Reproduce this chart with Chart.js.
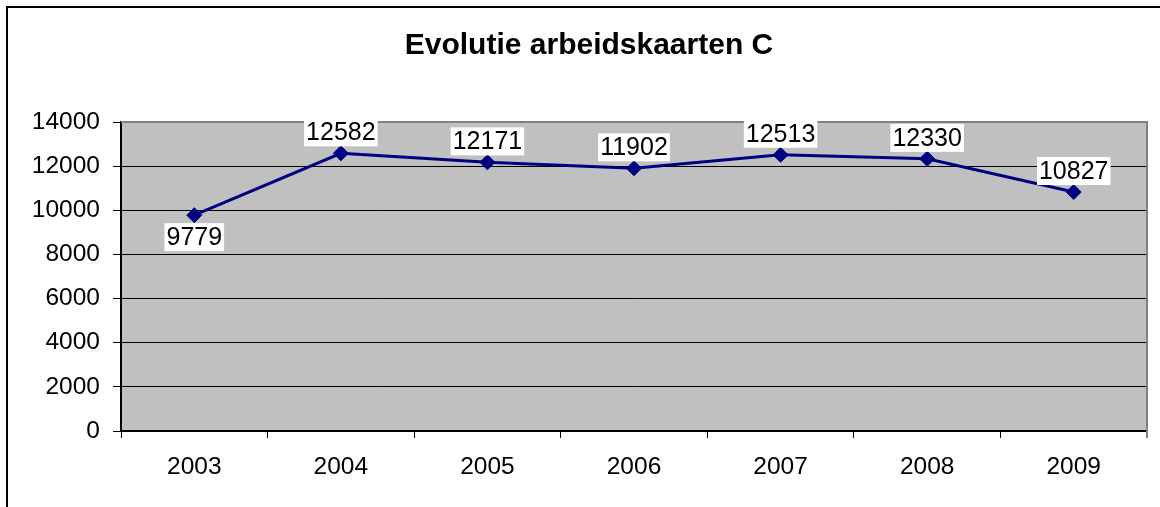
<!DOCTYPE html>
<html>
<head>
<meta charset="utf-8">
<script src="https://cdn.jsdelivr.net/npm/chart.js@4"></script>
<style>
  html, body { margin: 0; padding: 0; background: #fff; }
  #wrap { width: 1160px; height: 507px; position: relative; }
</style>
</head>
<body>
<div id="wrap"><canvas id="chart"></canvas></div>
<script>
var years = ['2003', '2004', '2005', '2006', '2007', '2008', '2009'];
var kaarten = [9779, 12582, 12171, 11902, 12513, 12330, 10827];
var labelBelow = [true, false, false, false, false, false, false];
var chartTitle = 'Evolutie arbeidskaarten C';

var font = 'Arial, "Liberation Sans", sans-serif';

// gray plot area + frame, outer chart border, title, data labels
var frame = {
    id: 'frame',
    beforeDraw: function(chart) {
        var c = chart.ctx, a = chart.chartArea;
        c.save();
        c.fillStyle = '#fff';
        c.fillRect(0, 0, chart.width, chart.height);
        c.strokeStyle = '#000';
        c.lineWidth = 2;
        c.strokeRect(7, 7, 2000, 2000);
        c.fillStyle = '#c0c0c0';
        c.fillRect(a.left, a.top, a.right - a.left, a.bottom - a.top);
        c.fillStyle = '#000';
        c.font = 'bold 30px ' + font;
        c.textAlign = 'center';
        c.textBaseline = 'middle';
        c.fillText(chartTitle, 589, 46);
        c.restore();
    },
    beforeDatasetsDraw: function(chart) {
        var c = chart.ctx, a = chart.chartArea;
        c.save();
        c.strokeStyle = '#808080';
        c.lineWidth = 2;
        c.beginPath();
        c.moveTo(a.left, a.top);
        c.lineTo(a.right, a.top);
        c.lineTo(a.right, a.bottom + 7);
        c.stroke();
        c.restore();
    },
    afterDatasetsDraw: function(chart) {
        var c = chart.ctx;
        var meta = chart.getDatasetMeta(0);
        c.save();
        c.font = '25px ' + font;
        c.textAlign = 'center';
        c.textBaseline = 'middle';
        meta.data.forEach(function(pt, i) {
            var txt = String(kaarten[i]);
            var w = c.measureText(txt).width + 4;
            var y = labelBelow[i] ? pt.y + 22 : pt.y - 21;
            c.fillStyle = '#fff';
            c.fillRect(pt.x - w / 2, y - 14, w, 28);
            c.fillStyle = '#000';
            c.fillText(txt, pt.x, y + 1);
        });
        c.restore();
    }
};

new Chart(document.getElementById('chart').getContext('2d'), {
    type: 'line',
    data: {
        labels: years,
        datasets: [{
            label: 'Arbeidskaarten C',
            data: kaarten,
            borderColor: '#000080',
            backgroundColor: '#000080',
            borderWidth: 3,
            pointStyle: 'rectRot',
            pointRadius: 7.5,
            pointBorderWidth: 1,
            tension: 0
        }]
    },
    options: {
        responsive: true,
        maintainAspectRatio: false,
        animation: false,
        layout: { padding: { left: 0, right: 13, top: 122, bottom: 0 } },
        plugins: {
            legend: { display: false },
            tooltip: { enabled: false },
            title: { display: false }
        },
        scales: {
            x: {
                offset: true,
                grid: {
                    offset: true,
                    drawOnChartArea: false,
                    drawTicks: true,
                    tickLength: 7,
                    tickColor: '#000'
                },
                border: { color: '#000', width: 2 },
                ticks: { color: '#000', font: { family: font, size: 24.5 }, padding: 15, maxRotation: 0 },
                afterFit: function(s) { s.height = 76; }
            },
            y: {
                min: 0,
                max: 14000,
                ticks: {
                    stepSize: 2000,
                    color: '#000',
                    font: { family: font, size: 24.5 },
                    padding: 13,
                    callback: function(v) { return String(v); }
                },
                grid: {
                    color: function(ctx) { return ctx.tick && ctx.tick.value === 14000 ? '#808080' : '#000'; },
                    lineWidth: 1,
                    tickLength: 8,
                    tickColor: '#000'
                },
                border: { color: '#000', width: 2 },
                afterFit: function(s) { s.width = 121; }
            }
        }
    },
    plugins: [frame]
});
</script>
</body>
</html>
